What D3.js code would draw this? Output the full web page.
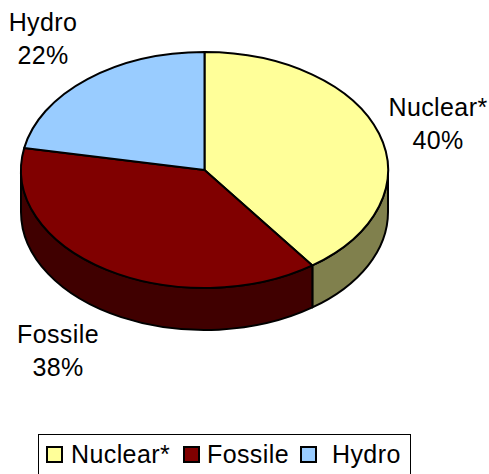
<!DOCTYPE html>
<html>
<head>
<meta charset="utf-8">
<script src="https://cdn.jsdelivr.net/npm/d3@7"></script>
<style>
  body { margin: 0; background: #fff; }
  svg { display: block; font-family: "Liberation Sans", Arial, sans-serif; }
</style>
</head>
<body>
<div id="chart"></div>
<script>
// data
var sources = ['Nuclear*', 'Fossile', 'Hydro'];
var shares = [40, 38, 22];
var topColors = ['#ffff99', '#800000', '#99ccff'];
var sideColors = ['#80804d', '#400000', '#4d6680'];

var width = 489, height = 474;
var cx = 204.5, cy = 170, rx = 183.5, ry = 118, depth = 42;

var svg = d3.select('#chart').append('svg')
    .attr('width', width)
    .attr('height', height);

var pie = d3.pie().sort(null).value(function (d) { return d; });
var arcs = pie(shares);

// point on the ellipse, angle clockwise from 12 o'clock
function pt(a, dy) {
    return [cx + rx * Math.sin(a), cy - ry * Math.cos(a) + (dy || 0)];
}

// side walls (front half only)
var sides = svg.append('g');
arcs.forEach(function (d, i) {
    var a0 = Math.max(d.startAngle, Math.PI / 2);
    var a1 = Math.min(d.endAngle, Math.PI * 3 / 2);
    if (a1 <= a0) return;
    var p0 = pt(a0), p1 = pt(a1), q1 = pt(a1, depth), q0 = pt(a0, depth);
    var path = 'M' + p0 + ' A' + rx + ',' + ry + ' 0 0 1 ' + p1 +
        ' L' + q1 + ' A' + rx + ',' + ry + ' 0 0 0 ' + q0 + ' Z';
    sides.append('path')
        .attr('d', path)
        .attr('fill', sideColors[i])
        .attr('stroke', '#000')
        .attr('stroke-width', 2)
        .attr('stroke-linejoin', 'round');
});

// top faces
svg.append('g').selectAll('path').data(arcs).enter().append('path')
    .attr('d', function (d) {
        var p0 = pt(d.startAngle), p1 = pt(d.endAngle);
        var large = (d.endAngle - d.startAngle) > Math.PI ? 1 : 0;
        return 'M' + cx + ',' + cy + ' L' + p0 + ' A' + rx + ',' + ry + ' 0 ' + large + ' 1 ' + p1 + ' Z';
    })
    .attr('fill', function (d, i) { return topColors[i]; })
    .attr('stroke', '#000')
    .attr('stroke-width', 2)
    .attr('stroke-linejoin', 'round');

// data labels
var labelPos = [[438, 116], [58, 343], [43, 31]];
var labels = svg.append('g')
    .attr('font-size', 25)
    .attr('letter-spacing', 0.4)
    .attr('text-anchor', 'middle');
arcs.forEach(function (d, i) {
    var t = labels.append('text')
        .attr('x', labelPos[i][0])
        .attr('y', labelPos[i][1]);
    t.append('tspan').attr('x', labelPos[i][0]).text(sources[i]);
    t.append('tspan').attr('x', labelPos[i][0]).attr('dy', 33).text(shares[i] + '%');
});

// legend
var legend = svg.append('g');
legend.append('rect')
    .attr('x', 38.5).attr('y', 434.5)
    .attr('width', 372).attr('height', 60)
    .attr('fill', '#fff')
    .attr('stroke', '#000')
    .attr('stroke-width', 1);

var legendX = [47, 184, 301];
var textX = [71, 207, 332];
sources.forEach(function (s, i) {
    legend.append('rect')
        .attr('x', legendX[i]).attr('y', 447)
        .attr('width', 15).attr('height', 15)
        .attr('fill', topColors[i])
        .attr('stroke', '#000')
        .attr('stroke-width', 2);
    legend.append('text')
        .attr('x', textX[i]).attr('y', 463)
        .attr('font-size', 25)
        .attr('letter-spacing', 0.4)
        .text(s);
});
</script>
</body>
</html>
